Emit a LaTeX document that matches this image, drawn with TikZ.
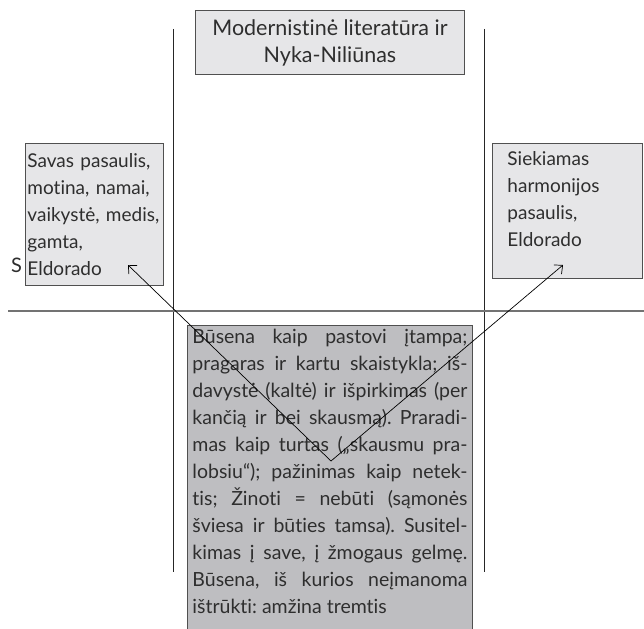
\documentclass[tikz,border=0pt]{standalone}
\usepackage{fontspec}
\setmainfont{Lato}[Ligatures={NoCommon}]
\frenchspacing
\usetikzlibrary{arrows.meta}
\tikzset {>={Straight Barb[length=6.5pt,width=12pt]}}
\definecolor{paleGray}{HTML}{E6E6E8}
\definecolor{midGray}{HTML}{BEBEC1}
\definecolor{edgeGray}{HTML}{505050}
\definecolor{inkGray}{HTML}{2E2E2E}
\tikzset{
  boxbase/.style={draw=edgeGray,line width=0.9pt,text=inkGray,
    font=\fontsize{19.5}{27}\selectfont},
  titlebox/.style={boxbase,fill=paleGray,align=center,anchor=north west,
    font=\fontsize{21.5}{27}\selectfont},
  sidebox/.style={boxbase,fill=paleGray,align=left,anchor=north west,
    font=\fontsize{19}{27}\selectfont},
  statebox/.style={boxbase,fill=midGray,align=justify,anchor=north west,
    text width=275pt,inner xsep=5pt,inner ysep=4pt,text depth=290pt}
}

\begin{document}
\begin{tikzpicture}[x=1pt,y=-1pt]
\useasboundingbox (0,0) rectangle (644,628);
% quadrant lines
\draw[line width=0.8pt,black!85] (173.5,29) -- (173.5,572);
\draw[line width=0.8pt,black!85] (484,29) -- (484,572);
\draw[line width=1.3pt,black!55] (8,311) -- (644,311);
% boxes
\node[titlebox,minimum width=269pt,minimum height=64pt] (title) at (195,10)
  {Modernistinė literatūra ir\\Nyka-Niliūnas};
\node[sidebox,text width=134pt,inner xsep=2pt,minimum height=142pt] (own) at (25,143)
  {Savas pasaulis,\\motina, namai,\\vaikystė, medis,\\gamta,\\Eldorado};
\node[sidebox,text width=120pt,inner xsep=15pt,inner ysep=8pt,text depth=105pt] (aim) at (492,143)
  {Siekiamas\\harmonijos\\pasaulis,\\Eldorado};
\node[text=inkGray,font=\fontsize{20}{27}\selectfont,anchor=base west,inner sep=0pt] (s) at (11,272) {S};
\node[statebox] (state) at (187,325)
  {Būsena kaip pastovi įtampa;\linebreak
   pragaras ir kartu skaistykla; iš-\linebreak
   davystė (kaltė) ir išpirkimas (per\linebreak
   kančią ir bei skausmą). Praradi-\linebreak
   mas kaip turtas („skausmu pra-\linebreak
   lobsiu“); pažinimas kaip netek-\linebreak
   tis; Žinoti = nebūti (sąmonės\linebreak
   šviesa ir būties tamsa). Susitel-\linebreak
   kimas į save, į žmogaus gelmę.\linebreak
   Būsena, iš kurios neįmanoma\linebreak
   ištrūkti: amžina tremtis};
% arrows
\coordinate (V) at (331,461);
\coordinate (ownTip) at (128,265);
\coordinate (aimTip) at (563,265);
\draw[line width=0.7pt,->] (V) -- (ownTip);
\draw[line width=0.7pt,->] (V) -- (aimTip);
\end{tikzpicture}
\end{document}
